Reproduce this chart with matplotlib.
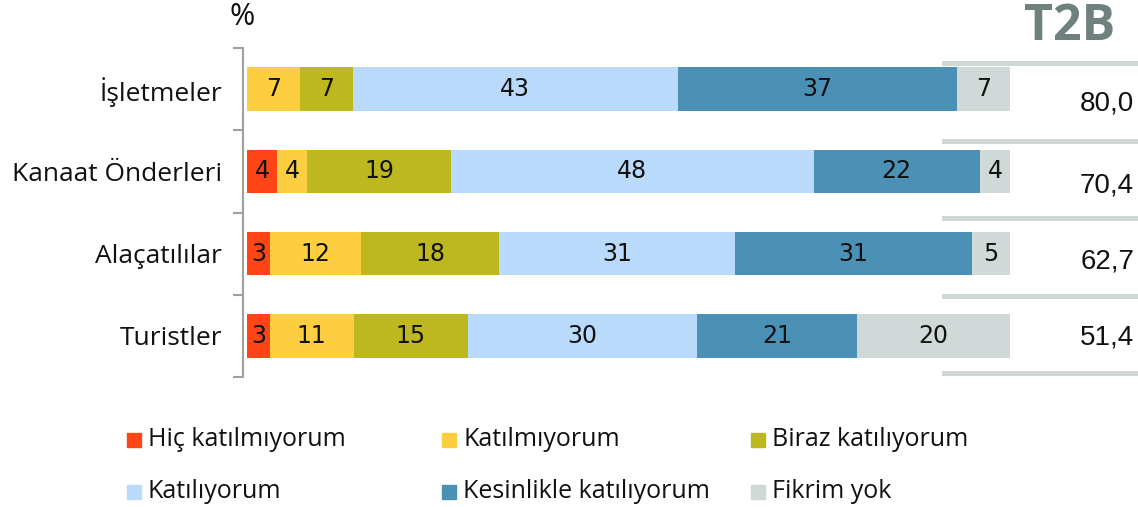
import matplotlib
matplotlib.use("Agg")
import matplotlib.pyplot as plt
import numpy as np
from matplotlib.patches import Rectangle
from matplotlib.lines import Line2D

categories = ["İşletmeler", "Kanaat Önderleri", "Alaçatılılar", "Turistler"]
series_names = ["Hiç katılmıyorum", "Katılmıyorum", "Biraz katılıyorum",
                "Katılıyorum", "Kesinlikle katılıyorum", "Fikrim yok"]
hic = [0, 4, 3, 3]
katilmiyorum = [7, 4, 12, 11]
biraz = [7, 19, 18, 15]
katiliyorum = [43, 48, 31, 30]
kesinlikle = [37, 22, 31, 21]
fikrim_yok = [7, 4, 5, 20]
t2b = ["80,0", "70,4", "62,7", "51,4"]

colors = ["#FF4416", "#FDCF40", "#BDB81F", "#B9DAFA", "#4B91B6", "#D1D9D8"]

W, H = 1138, 507
fig = plt.figure(figsize=(W / 100, H / 100), dpi=100)
plt.rcParams['font.family'] = ['Open Sans', 'DejaVu Sans']

def fx(px):
    return px / W

def fy(py):
    return 1 - py / H

ax = fig.add_axes([fx(243), fy(377), fx(1010) - fx(243), fy(48) - fy(377)])

data = np.array([hic, katilmiyorum, biraz, katiliyorum, kesinlikle, fikrim_yok], dtype=float)
totals = data.sum(axis=0)
norm = data / totals * 100
y = np.arange(len(categories))
left = np.zeros(len(categories))
for i in range(len(series_names)):
    ax.barh(y, norm[i], left=left, height=0.53, color=colors[i], edgecolor="none")
    for j in range(len(categories)):
        if data[i, j] > 0:
            ax.text(left[j] + norm[i, j] / 2, y[j], f"{int(data[i, j])}",
                    ha="center", va="center", fontsize=17, color="#111111",
                    family=['DejaVu Sans'])
    left += norm[i]

ax.set_xlim(-0.5, 100)
ax.set_ylim(len(categories) - 0.5, -0.5)
ax.set_xticks([])
ax.set_yticks(y)
ax.set_yticklabels(categories, fontsize=19, color="#111111")
ax.set_yticks(np.arange(-0.5, len(categories)), minor=True)
ax.tick_params(axis="y", which="major", length=0, pad=15)
ax.tick_params(axis="y", which="minor", length=7, color="#A0A0A0", width=1.5)
for s in ["top", "right", "bottom"]:
    ax.spines[s].set_visible(False)
ax.spines["left"].set_color("#A0A0A0")
ax.spines["left"].set_linewidth(1.5)

# % label
fig.text(fx(242), fy(17), "%", ha="center", va="center", fontsize=22, color="#111111")

# T2B column
fig.text(fx(1070), fy(27), "T2B", ha="center", va="center", fontsize=36,
         fontweight="bold", color="#6E817E")
for py in [63, 141, 218, 296, 373]:
    fig.add_artist(Line2D([fx(944), fx(1138)], [fy(py), fy(py)],
                          color="#D0D8D6", linewidth=3.6, transform=fig.transFigure))
for val, py in zip(t2b, [103, 185, 262, 337]):
    fig.text(fx(1134), fy(py), val, ha="right", va="center", fontsize=20,
             color="#111111", family=['Liberation Sans'])

# Legend
leg_pos = [(127, 440), (442, 440), (751, 440), (127, 492), (442, 492), (751, 492)]
for name, c, (px, py) in zip(series_names, colors, leg_pos):
    fig.add_artist(Rectangle((fx(px), fy(py + 7)), fx(14), 14 / H, color=c,
                             transform=fig.transFigure))
    fig.text(fx(px + 21), fy(py), name, ha="left", va="center", fontsize=18,
             color="#111111")

fig.savefig("out.png", dpi=100)
